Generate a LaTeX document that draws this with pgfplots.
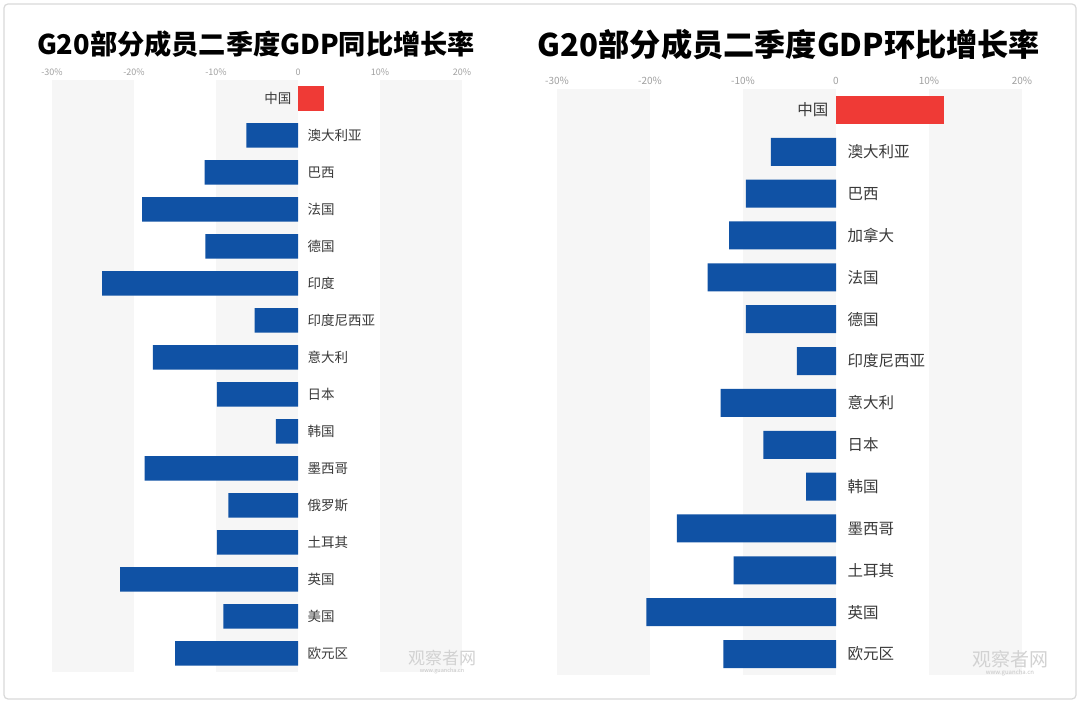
\documentclass[border=0pt]{standalone}
\usepackage{pgfplots}
\usepackage{pgfplotstable}
\pgfplotsset{compat=1.18}
\usepackage{fontspec}
\setmainfont{Noto Sans CJK SC}
\definecolor{barblue}{HTML}{1052A5}
\definecolor{barred}{HTML}{EF3A36}
\definecolor{band}{HTML}{F6F6F6}
\definecolor{lab}{HTML}{3A3A3A}
\definecolor{tick}{HTML}{A0A0A0}

\pgfplotstableread{
y val name
1 -6.3 澳大利亚
2 -11.4 巴西
3 -19.0 法国
4 -11.3 德国
5 -23.9 印度
6 -5.3 印度尼西亚
7 -17.7 意大利
8 -9.9 日本
9 -2.7 韩国
10 -18.7 墨西哥
11 -8.5 俄罗斯
12 -9.9 土耳其
13 -21.7 英国
14 -9.1 美国
15 -15.0 欧元区
}\dataL

\pgfplotstableread{
y val name
1 -7.0 澳大利亚
2 -9.7 巴西
3 -11.5 加拿大
4 -13.8 法国
5 -9.7 德国
6 -4.2 印度尼西亚
7 -12.4 意大利
8 -7.8 日本
9 -3.2 韩国
10 -17.1 墨西哥
11 -11.0 土耳其
12 -20.4 英国
13 -12.1 欧元区
}\dataR

\pgfplotsset{
  gdpaxis/.style={
    scale only axis,
    anchor=south west,
    xmin=-30, xmax=20,
    y dir=reverse,
    axis line style={draw=none},
    major tick length=0pt,
    ytick=\empty,
    xtick={-30,-20,-10,0,10,20},
    xticklabels={-30\%,-20\%,-10\%,0,10\%,20\%},
    xticklabel pos=upper,
    xticklabel style={text=tick},
    clip=false,
  },
}

\begin{document}
\begin{tikzpicture}[x=1pt,y=1pt]
\useasboundingbox (0,0) rectangle (1080,703);
\fill[white] (0,0) rectangle (1080,703);
\draw[gray!30, line width=1.2pt, rounded corners=4pt] (4,4) rectangle (1076,699);

% titles
\node[font=\fontsize{27.2}{29}\selectfont\bfseries, text=black] at (256,659) {G20部分成员二季度GDP同比增长率};
\node[font=\fontsize{31.2}{33}\selectfont\bfseries, text=black] at (789,658) {G20部分成员二季度GDP环比增长率};

% ---------------- left chart ----------------
\begin{axis}[gdpaxis,
  at={(52pt,31pt)}, width=410pt, height=592pt,
  ymin=-0.5, ymax=15.5,
  xticklabel style={font=\fontsize{9}{9}\selectfont, yshift=1pt},
]
\fill[band] (axis cs:-30,-0.5) rectangle (axis cs:-20,15.5);
\fill[band] (axis cs:-10,-0.5) rectangle (axis cs:0,15.5);
\fill[band] (axis cs:10,-0.5) rectangle (axis cs:20,15.5);
\addplot[xbar, bar width=24.5pt, bar shift=0pt, fill=barred, draw=none] coordinates {(3.2,0)};
\addplot[xbar, bar width=24.5pt, bar shift=0pt, fill=barblue, draw=none] table[x=val, y=y] {\dataL};
\addplot[draw=none, mark=none, nodes near coords, point meta=explicit symbolic,
  nodes near coords align={horizontal},
  every node near coord/.append style={anchor=west, xshift=6pt, font=\fontsize{13.5}{14}\selectfont, text=lab}]
  table[x expr=0, y=y, meta=name] {\dataL};
\addplot[draw=none, mark=none, nodes near coords, point meta=explicit symbolic,
  nodes near coords align={horizontal},
  every node near coord/.append style={anchor=east, xshift=-3pt, font=\fontsize{13.5}{14}\selectfont, text=lab}]
  coordinates {(0,0) [中国]};
\end{axis}

% ---------------- right chart ----------------
\begin{axis}[gdpaxis,
  at={(557pt,28pt)}, width=465pt, height=586pt,
  ymin=-0.5, ymax=13.5,
  xticklabel style={font=\fontsize{10}{10}\selectfont, yshift=1pt},
]
\fill[band] (axis cs:-30,-0.5) rectangle (axis cs:-20,13.5);
\fill[band] (axis cs:-10,-0.5) rectangle (axis cs:0,13.5);
\fill[band] (axis cs:10,-0.5) rectangle (axis cs:20,13.5);
\addplot[xbar, bar width=28pt, bar shift=0pt, fill=barred, draw=none] coordinates {(11.6,0)};
\addplot[xbar, bar width=28pt, bar shift=0pt, fill=barblue, draw=none] table[x=val, y=y] {\dataR};
\addplot[draw=none, mark=none, nodes near coords, point meta=explicit symbolic,
  nodes near coords align={horizontal},
  every node near coord/.append style={anchor=west, xshift=8pt, font=\fontsize{15.5}{16}\selectfont, text=lab}]
  table[x expr=0, y=y, meta=name] {\dataR};
\addplot[draw=none, mark=none, nodes near coords, point meta=explicit symbolic,
  nodes near coords align={horizontal},
  every node near coord/.append style={anchor=east, xshift=-4pt, font=\fontsize{15.5}{16}\selectfont, text=lab}]
  coordinates {(0,0) [中国]};
\end{axis}

% watermarks
\node[font=\fontsize{17}{17}\selectfont, text=gray!35] at (442,45) {观察者网};
\node[font=\fontsize{5.5}{6}\selectfont, text=gray!45] at (442,32) {www.guancha.cn};
\node[font=\fontsize{19}{19}\selectfont, text=gray!35] at (1010,44) {观察者网};
\node[font=\fontsize{6}{6}\selectfont, text=gray!45] at (1010,30) {www.guancha.cn};
\end{tikzpicture}
\end{document}
